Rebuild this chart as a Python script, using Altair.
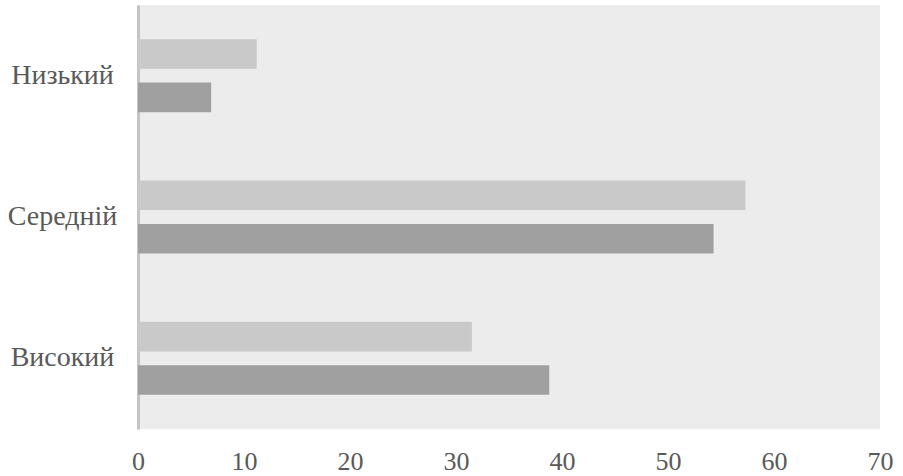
import altair as alt
import pandas as pd

categories = ["Низький", "Середній", "Високий"]
series_names = ["Серія 1", "Серія 2"]
series1_values = [11.2, 57.3, 31.5]
series2_values = [6.9, 54.3, 38.8]
x_ticks = [0, 10, 20, 30, 40, 50, 60, 70]

rows = []
for c, a, b in zip(categories, series1_values, series2_values):
    rows.append({"level": c, "series": series_names[0], "value": a})
    rows.append({"level": c, "series": series_names[1], "value": b})
df = pd.DataFrame(rows)

font = "'Liberation Serif', serif"
label_color = "#595959"

chart = alt.Chart(df).mark_bar().encode(
    y=alt.Y("level:N", sort=categories, title=None,
            scale=alt.Scale(paddingInner=0, paddingOuter=0),
            axis=alt.Axis(domain=True, domainColor="#c4c4c4", domainWidth=3,
                          ticks=False, tickSize=0, grid=False,
                          labelFont=font, labelFontSize=28, labelColor=label_color,
                          labelAlign="center", labelBaseline="middle",
                          labelPadding=76)),
    yOffset=alt.YOffset("series:N", sort=series_names,
                        scale=alt.Scale(paddingInner=0.32, paddingOuter=0.785)),
    x=alt.X("value:Q", title=None,
            scale=alt.Scale(domain=[0, 70], nice=False),
            axis=alt.Axis(values=x_ticks, domain=False, ticks=False, tickSize=0,
                          grid=False, labelFont=font, labelFontSize=26,
                          labelColor=label_color, labelPadding=19,
                          labelFlush=False)),
    color=alt.Color("series:N", sort=series_names,
                    scale=alt.Scale(domain=series_names, range=["#c9c9c9", "#a0a0a0"]),
                    legend=None),
).properties(
    width=742, height=424,
    background="white",
    autosize=alt.AutoSizeParams(type="none"),
    padding={"left": 138, "top": 5, "right": 23, "bottom": 47},
).configure_view(
    fill="#ececec", stroke=None
)

chart.save("out.html", embed_options={"renderer": "svg", "actions": False})
